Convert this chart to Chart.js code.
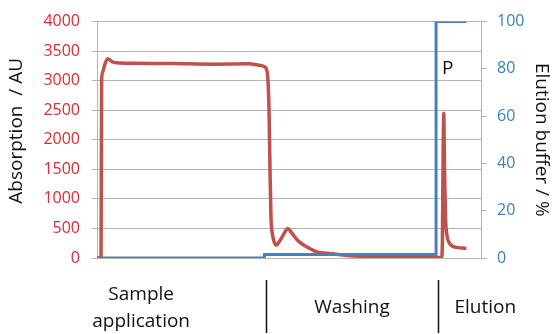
<!DOCTYPE html>
<html>
<head>
<meta charset="utf-8">
<script src="https://cdn.jsdelivr.net/npm/chart.js@4/dist/chart.umd.min.js"></script>
<style>
  html, body { margin: 0; padding: 0; background: #fff; }
  #wrap { width: 556px; height: 334px; position: relative; }
</style>
</head>
<body>
<div id="wrap"><canvas id="c" width="556" height="334"></canvas></div>
<script>
// Run time (relative units) and UV absorption trace
const absTime = [0, 1.05, 1.2, 1.5, 2.0, 2.8, 4.0, 6, 10, 20, 30, 39.7, 41, 42.8, 43.75, 44.4, 44.8, 45.05, 45.3, 45.7, 46.2, 46.8, 47.5, 48.6, 49.7, 50.65, 52.2, 53.8, 55.3, 57.2, 59.8, 62.4, 65.8, 68.4, 73.6, 78.8, 84, 89.2, 89.75, 89.95, 90.1, 90.3, 90.5, 90.75, 91.15, 91.8, 92.6, 93.6, 94.9, 96.2];
const absorption = [0, 0, 3000, 3150, 3270, 3370, 3320, 3300, 3295, 3290, 3280, 3285, 3275, 3255, 3230, 3100, 2500, 1500, 700, 400, 260, 220, 280, 400, 500, 430, 300, 220, 165, 105, 80, 62, 40, 30, 18, 12, 8, 8, 10, 300, 1500, 2450, 1500, 700, 380, 250, 200, 180, 170, 165];

// Elution buffer gradient (step programme)
const bufferTime = [0, 43.6, 43.6, 88.3, 88.3, 96.2];
const elutionBuffer = [0, 0, 1.5, 1.5, 100, 100];

// Tick settings
const absTicks = { min: 0, max: 4000, step: 500 };
const bufferTicks = { min: 0, max: 100, step: 20 };

// Axis titles
const absTitle = 'Absorption  / AU';
const bufferTitle = 'Elution buffer / %';

// Process phases below the plot
const phaseNames = [["Sample", "application"], ["Washing"], ["Elution"]];
const phaseCenters = [11.5, 66.4, 101.1];
const phaseBounds = [44, 88.75];

// Peak marker
const peakLabel = { text: "P", x: 91.3, y: 3200 };

const RED_LINE = '#C0504D';
const BLUE_LINE = '#4A7EC2';
const RED_TEXT = '#DD2A33';
const BLUE_TEXT = '#3B80C2';
const GRID = '#B4B4B4';
const FONT = "'Open Sans', sans-serif";

const absPoints = absTime.map((t, i) => ({ x: t, y: absorption[i] }));
const bufferPoints = bufferTime.map((t, i) => ({ x: t, y: elutionBuffer[i] }));

const annotations = {
  id: 'annotations',
  afterDraw(chart) {
    const ctx = chart.ctx;
    const xs = chart.scales.x;
    const ys = chart.scales.y;
    const area = chart.chartArea;
    ctx.save();
    ctx.fillStyle = '#111';
    ctx.font = "19px " + FONT;

    // phase names under the plot
    ctx.textAlign = 'center';
    ctx.textBaseline = 'alphabetic';
    phaseNames.forEach((lines, i) => {
      const px = xs.getPixelForValue(phaseCenters[i]);
      const lh = 27;
      const y0 = 313 - (lines.length - 1) * lh / 2;
      lines.forEach((ln, j) => ctx.fillText(ln, px, y0 + j * lh));
    });

    // phase separators
    ctx.strokeStyle = '#111';
    ctx.lineWidth = 1.5;
    phaseBounds.forEach(b => {
      const px = Math.round(xs.getPixelForValue(b)) + 0.5;
      ctx.beginPath();
      ctx.moveTo(px, 280);
      ctx.lineTo(px, 333);
      ctx.stroke();
    });

    // peak label
    ctx.textBaseline = 'middle';
    ctx.fillText(peakLabel.text, xs.getPixelForValue(peakLabel.x), ys.getPixelForValue(peakLabel.y));

    // axis titles
    const midY = (area.top + area.bottom) / 2;
    ctx.save();
    ctx.translate(17, midY - 9);
    ctx.rotate(-Math.PI / 2);
    ctx.fillText(absTitle, 0, 0);
    ctx.restore();

    ctx.save();
    ctx.translate(541, midY);
    ctx.rotate(Math.PI / 2);
    ctx.fillText(bufferTitle, 0, 0);
    ctx.restore();

    ctx.restore();
  }
};

new Chart(document.getElementById('c'), {
  type: 'line',
  data: {
    datasets: [
      {
        label: 'Absorption',
        data: absPoints,
        yAxisID: 'y',
        borderColor: RED_LINE,
        borderWidth: 3.5,
        pointRadius: 0,
        cubicInterpolationMode: 'monotone',
        fill: false,
        order: 2
      },
      {
        label: 'Elution buffer',
        data: bufferPoints,
        yAxisID: 'y2',
        borderColor: BLUE_LINE,
        borderWidth: 3,
        pointRadius: 0,
        tension: 0,
        fill: false,
        order: 1
      }
    ]
  },
  options: {
    responsive: false,
    animation: false,
    events: [],
    layout: { padding: { top: 19, bottom: 76, left: 0, right: 0 } },
    plugins: { legend: { display: false }, tooltip: { enabled: false } },
    scales: {
      x: {
        type: 'linear',
        min: 0,
        max: 100,
        display: false
      },
      y: {
        position: 'left',
        min: absTicks.min,
        max: absTicks.max,
        ticks: {
          stepSize: absTicks.step,
          color: RED_TEXT,
          font: { family: FONT, size: 16 },
          padding: 12,
          callback: v => String(v)
        },
        grid: { color: GRID, lineWidth: 1, tickLength: 5 },
        border: { color: GRID, width: 1 },
        afterFit(s) { s.width = 97; }
      },
      y2: {
        position: 'right',
        min: bufferTicks.min,
        max: bufferTicks.max,
        ticks: {
          stepSize: bufferTicks.step,
          color: BLUE_TEXT,
          font: { family: FONT, size: 16 },
          padding: 10,
          callback: v => String(v)
        },
        grid: { drawOnChartArea: false, color: GRID, tickLength: 6 },
        border: { color: GRID, width: 1 },
        afterFit(s) { s.width = 75; }
      }
    }
  },
  plugins: [annotations]
});
</script>
</body>
</html>
